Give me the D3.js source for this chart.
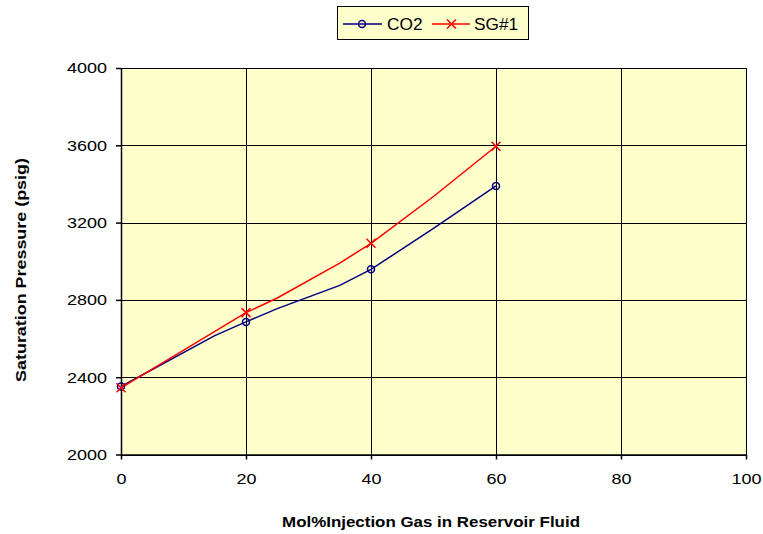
<!DOCTYPE html>
<html>
<head>
<meta charset="utf-8">
<script src="https://cdn.jsdelivr.net/npm/d3@7"></script>
<style>
  body { margin: 0; background: #fff; }
  svg text { font-family: "Liberation Sans", Arial, sans-serif; }
</style>
</head>
<body>
<svg id="chart"></svg>
<script>
// series data (mol% gas, saturation pressure psig)
var co2X = [0, 15, 20, 25, 35, 40, 50, 60]
var co2Y = [2352, 2615, 2686, 2755, 2875, 2958, 3170, 3390]
var sgX = [0, 20, 25, 35, 40, 50, 60]
var sgY = [2345, 2734, 2810, 2990, 3093, 3335, 3595]
var markedX = [0, 20, 40, 60]

var xTicks = [0, 20, 40, 60, 80, 100]
var yTicks = [2000, 2400, 2800, 3200, 3600, 4000]

var width = 763, height = 534
var margin = {top: 68, left: 121, right: 17, bottom: 79.5}
var innerW = width - margin.left - margin.right
var innerH = height - margin.top - margin.bottom

// text in the original looks horizontally stretched
var tickStretch = 1.2

var svg = d3.select('#chart').attr('width', width).attr('height', height)
var g = svg.append('g').attr('transform', 'translate(' + margin.left + ',' + margin.top + ')')

var xScale = d3.scaleLinear().domain([0, 100]).range([0, innerW])
var yScale = d3.scaleLinear().domain([2000, 4000]).range([innerH, 0])

g.append('rect').attr('width', innerW).attr('height', innerH).style('fill', '#FFFFCC')

// grid
g.selectAll('.hgrid').data(yTicks).enter().append('line')
    .attr('x1', 0).attr('x2', innerW)
    .attr('y1', function (d) { return Math.round(yScale(d)) + 0.5 })
    .attr('y2', function (d) { return Math.round(yScale(d)) + 0.5 })
    .style('stroke', '#000').style('stroke-width', 1)
g.selectAll('.vgrid').data(xTicks).enter().append('line')
    .attr('y1', 0).attr('y2', innerH)
    .attr('x1', function (d) { return Math.round(xScale(d)) + 0.5 })
    .attr('x2', function (d) { return Math.round(xScale(d)) + 0.5 })
    .style('stroke', '#000').style('stroke-width', 1)

// axes
var xAxis = g.append('g').attr('transform', 'translate(0,' + innerH + ')')
    .call(d3.axisBottom(xScale).tickValues(xTicks).tickFormat(d3.format('d'))
        .tickSizeInner(5).tickSizeOuter(0).tickPadding(14))
var yAxis = g.append('g')
    .call(d3.axisLeft(yScale).tickValues(yTicks).tickFormat(d3.format('d'))
        .tickSizeInner(5).tickSizeOuter(0).tickPadding(9))
;[xAxis, yAxis].forEach(function (a) {
    a.selectAll('path, line').style('stroke', '#000').style('stroke-width', 1.5)
    a.selectAll('text')
        .style('font-size', '15px').style('fill', '#000')
        .attr('x', function () { return (+d3.select(this).attr('x') || 0) / tickStretch })
        .attr('transform', 'scale(' + tickStretch + ',1)')
})

// lines
var line = d3.line()
    .x(function (d) { return xScale(d[0]) })
    .y(function (d) { return yScale(d[1]) })

var co2 = co2X.map(function (x, i) { return [x, co2Y[i]] })
var sg = sgX.map(function (x, i) { return [x, sgY[i]] })

g.append('path').datum(co2).attr('d', line)
    .style('fill', 'none').style('stroke', '#000080').style('stroke-width', 1.5)
g.append('path').datum(sg).attr('d', line)
    .style('fill', 'none').style('stroke', '#FF0000').style('stroke-width', 1.5)

function crossPath(cx, cy, s) {
    return 'M' + (cx - s) + ',' + (cy - s) + 'L' + (cx + s) + ',' + (cy + s) +
        'M' + (cx - s) + ',' + (cy + s) + 'L' + (cx + s) + ',' + (cy - s)
}

g.selectAll('.co2pt').data(co2.filter(function (d) { return markedX.indexOf(d[0]) >= 0 }))
    .enter().append('circle')
    .attr('cx', function (d) { return xScale(d[0]) })
    .attr('cy', function (d) { return yScale(d[1]) })
    .attr('r', 3.5)
    .style('fill', 'none').style('stroke', '#000080').style('stroke-width', 1.5)

g.selectAll('.sgpt').data(sg.filter(function (d) { return markedX.indexOf(d[0]) >= 0 }))
    .enter().append('path')
    .attr('d', function (d) { return crossPath(xScale(d[0]), yScale(d[1]), 4.5) })
    .style('fill', 'none').style('stroke', '#FF0000').style('stroke-width', 1.5)

// axis titles
svg.append('text')
    .attr('transform', 'translate(431,527) scale(1.21,1)')
    .attr('text-anchor', 'middle')
    .style('font-size', '14px').style('font-weight', 'bold')
    .text('Mol%Injection Gas in Reservoir Fluid')
svg.append('text')
    .attr('transform', 'translate(26,270) rotate(-90) scale(1.28,1)')
    .attr('text-anchor', 'middle')
    .style('font-size', '14px').style('font-weight', 'bold')
    .text('Saturation Pressure (psig)')

// legend
var legend = svg.append('g')
legend.append('rect').attr('x', 337.5).attr('y', 6.5).attr('width', 191).attr('height', 33)
    .style('fill', '#FFFFCC').style('stroke', '#000').style('stroke-width', 1)
legend.append('line').attr('x1', 343).attr('x2', 382).attr('y1', 24).attr('y2', 24)
    .style('stroke', '#000080').style('stroke-width', 1.5)
legend.append('circle').attr('cx', 362).attr('cy', 24).attr('r', 3.5)
    .style('fill', 'none').style('stroke', '#000080').style('stroke-width', 1.5)
legend.append('text').attr('transform', 'translate(387,30) scale(1.08,1)')
    .style('font-size', '16px').text('CO2')
legend.append('line').attr('x1', 432).attr('x2', 470).attr('y1', 24).attr('y2', 24)
    .style('stroke', '#FF0000').style('stroke-width', 1.5)
legend.append('path').attr('d', crossPath(451.5, 24, 4.5))
    .style('fill', 'none').style('stroke', '#FF0000').style('stroke-width', 1.5)
legend.append('text').attr('transform', 'translate(474,30) scale(1.08,1)')
    .style('font-size', '16px').text('SG#1')
</script>
</body>
</html>
